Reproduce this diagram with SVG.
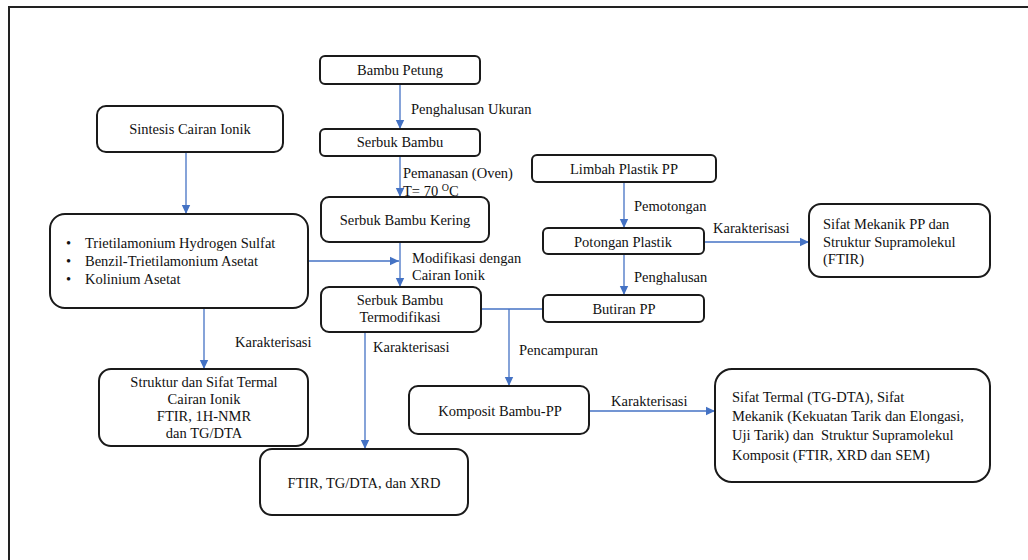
<svg xmlns="http://www.w3.org/2000/svg" width="1028" height="560" viewBox="0 0 1028 560" font-family="'Liberation Serif', 'Times New Roman', 'DejaVu Serif', serif">
<defs>
<marker id="ah" markerUnits="userSpaceOnUse" markerWidth="10" markerHeight="10" refX="9" refY="5" orient="auto">
<path d="M0,0.8 L9,5 L0,9.2 Z" fill="#4472C4"/>
</marker>
<style>
.box{fill:#fff;stroke:#1a1a1a;stroke-width:2}
.t{font-family:'Liberation Serif','Times New Roman','DejaVu Serif',serif;font-size:14.5px;fill:#111}
.c{text-anchor:middle}
.ln{fill:none;stroke:#4472C4;stroke-width:1.3}
.arr{marker-end:url(#ah)}
</style>
</defs>
<rect width="1028" height="560" fill="#fff"/>
<path d="M9,560 L9,7 L1028,7" fill="none" stroke="#222" stroke-width="2"/>

<g id="connectors">
<path class="ln arr" d="M400,84 L400,129"/>
<path class="ln arr" d="M400,156 L400,197"/>
<path class="ln arr" d="M186,153 L186,214"/>
<path class="ln arr" d="M308,261 L399,261"/>
<path class="ln arr" d="M400,242 L400,287"/>
<path class="ln arr" d="M204,308 L204,369"/>
<path class="ln arr" d="M365,332 L365,449"/>
<path class="ln" d="M481,309 L543,309"/>
<path class="ln arr" d="M509,309 L509,386"/>
<path class="ln arr" d="M624,182 L624,228"/>
<path class="ln arr" d="M624,254 L624,295"/>
<path class="ln arr" d="M704,242 L809,242"/>
<path class="ln arr" d="M589,411 L715,411"/>
<text class="t" x="411" y="114">Penghalusan Ukuran</text>
<text class="t" x="403" y="178">Pemanasan (Oven)</text>
<text class="t" x="403" y="196">T= 70 <tspan font-size="10" dy="-5">O</tspan><tspan dy="5">C</tspan></text>
<text class="t" x="412" y="263">Modifikasi dengan</text>
<text class="t" x="412" y="280">Cairan Ionik</text>
<text class="t" x="235" y="347">Karakterisasi</text>
<text class="t" x="373" y="352">Karakterisasi</text>
<text class="t" x="519" y="355">Pencampuran</text>
<text class="t" x="634" y="211">Pemotongan</text>
<text class="t" x="634" y="282">Penghalusan</text>
<text class="t" x="713" y="233">Karakterisasi</text>
<text class="t" x="611" y="406">Karakterisasi</text>
</g>

<g id="bambu-petung">
<rect class="box" x="320" y="56" width="160" height="28" rx="5"/>
<text class="t c" x="400" y="75">Bambu Petung</text>
</g>
<g id="serbuk-bambu">
<rect class="box" x="320" y="129" width="160" height="27" rx="5"/>
<text class="t c" x="400" y="147">Serbuk Bambu</text>
</g>
<g id="serbuk-bambu-kering">
<rect class="box" x="321" y="197" width="168" height="45" rx="8"/>
<text class="t c" x="405" y="225">Serbuk Bambu Kering</text>
</g>
<g id="serbuk-bambu-termodifikasi">
<rect class="box" x="321" y="287" width="160" height="45" rx="8"/>
<text class="t c" x="400" y="305">Serbuk Bambu</text>
<text class="t c" x="400" y="322">Termodifikasi</text>
</g>
<g id="sintesis-cairan-ionik">
<rect class="box" x="97" y="106" width="186" height="46" rx="9"/>
<text class="t c" x="190" y="134">Sintesis Cairan Ionik</text>
</g>
<g id="cairan-ionik-list">
<rect class="box" x="50" y="214" width="258" height="94" rx="15"/>
<text class="t" x="66" y="248">•</text>
<text class="t" x="85" y="248">Trietilamonium Hydrogen Sulfat</text>
<text class="t" x="66" y="266">•</text>
<text class="t" x="85" y="266">Benzil-Trietilamonium Asetat</text>
<text class="t" x="66" y="284">•</text>
<text class="t" x="85" y="284">Kolinium Asetat</text>
</g>
<g id="struktur-sifat-termal">
<rect class="box" x="99" y="369" width="209" height="77" rx="12"/>
<text class="t c" x="204" y="387">Struktur dan Sifat Termal</text>
<text class="t c" x="204" y="404">Cairan Ionik</text>
<text class="t c" x="204" y="421">FTIR, 1H-NMR</text>
<text class="t c" x="204" y="438">dan TG/DTA</text>
</g>
<g id="ftir-tgdta-xrd">
<rect class="box" x="260" y="449" width="208" height="66" rx="12"/>
<text class="t c" x="364" y="488">FTIR, TG/DTA, dan XRD</text>
</g>
<g id="limbah-plastik-pp">
<rect class="box" x="532" y="155" width="184" height="27" rx="5"/>
<text class="t c" x="624" y="174">Limbah Plastik PP</text>
</g>
<g id="potongan-plastik">
<rect class="box" x="543" y="228" width="161" height="26" rx="5"/>
<text class="t c" x="623" y="247">Potongan Plastik</text>
</g>
<g id="butiran-pp">
<rect class="box" x="543" y="295" width="161" height="27" rx="5"/>
<text class="t c" x="624" y="314">Butiran PP</text>
</g>
<g id="sifat-mekanik-pp">
<rect class="box" x="809" y="204" width="181" height="73" rx="12"/>
<text class="t" x="823" y="229">Sifat Mekanik PP dan</text>
<text class="t" x="823" y="247">Struktur Supramolekul</text>
<text class="t" x="823" y="264">(FTIR)</text>
</g>
<g id="komposit-bambu-pp">
<rect class="box" x="409" y="386" width="180" height="48" rx="9"/>
<text class="t c" x="500" y="416">Komposit Bambu-PP</text>
</g>
<g id="sifat-komposit">
<rect class="box" x="715" y="369" width="275" height="113" rx="17"/>
<text class="t" x="732" y="402">Sifat Termal (TG-DTA), Sifat</text>
<text class="t" x="732" y="421">Mekanik (Kekuatan Tarik dan Elongasi,</text>
<text class="t" x="732" y="440" xml:space="preserve">Uji Tarik) dan  Struktur Supramolekul</text>
<text class="t" x="732" y="460">Komposit (FTIR, XRD dan SEM)</text>
</g>
</svg>
